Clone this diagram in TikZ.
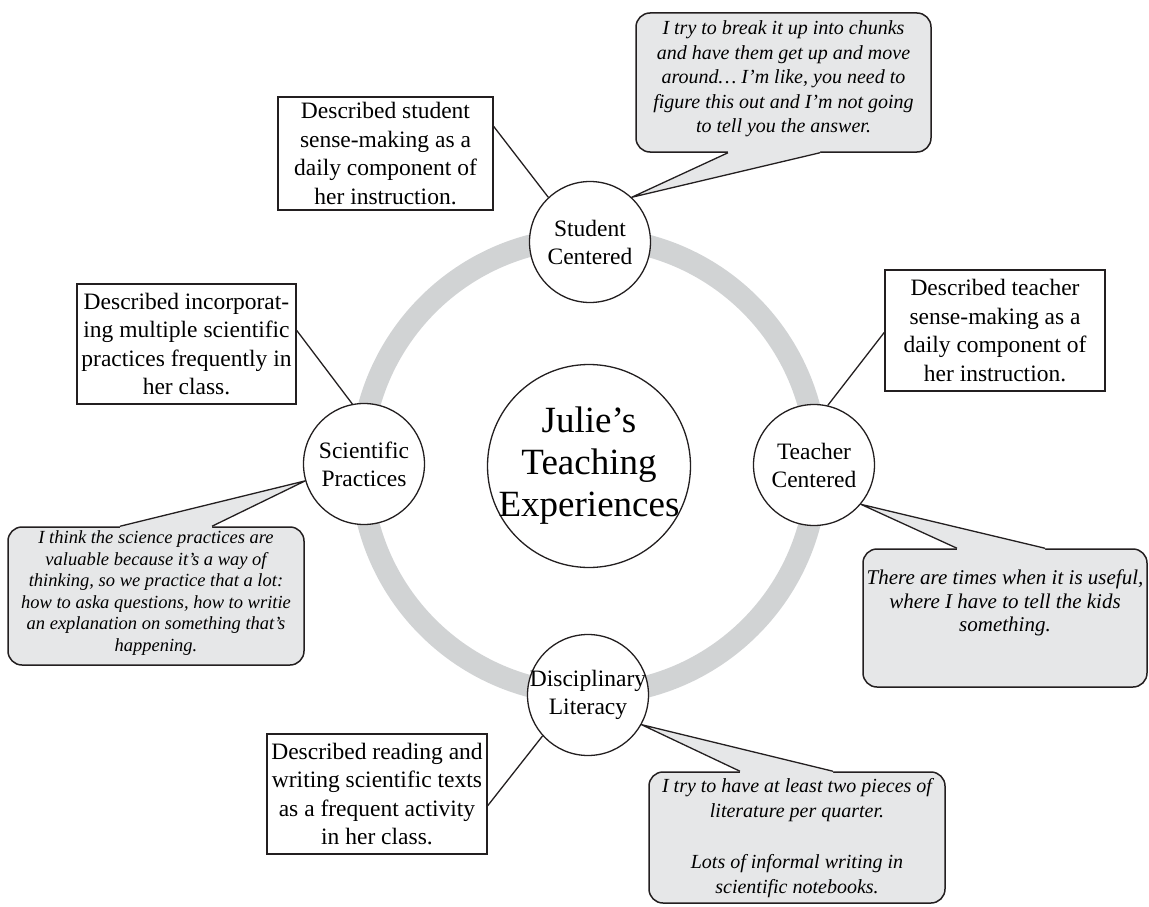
\documentclass[tikz,border=0pt]{standalone}
\usepackage{fontspec}
\setmainfont{Liberation Serif}
\usetikzlibrary{calc}
\definecolor{ink}{HTML}{231F20}
\definecolor{ringgray}{HTML}{D1D3D4}
\definecolor{quotefill}{HTML}{E6E7E8}
\tikzset{
  theme/.style={circle, draw=ink, fill=white, line width=1.3pt, minimum size=121pt,
    inner sep=-6pt, align=center, font=\fontsize{23.5}{28}\selectfont},
  hub/.style={circle, draw=ink, fill=white, line width=1.3pt, minimum size=203pt,
    inner sep=-14pt, align=center, font=\fontsize{37}{42}\selectfont},
  notebox/.style={draw=ink, fill=white, line width=1.5pt, inner sep=0pt,
    align=center, font=\fontsize{23.5}{28.5}\selectfont},
  quotebox/.style={draw=ink, fill=quotefill, line width=1.5pt, rounded corners=14pt, inner sep=0pt},
  quotetext/.style={align=center, inner sep=0pt, font=\itshape\fontsize{20}{24.5}\selectfont},
  link/.style={draw=ink, line width=1.3pt, line join=round},
}
\begin{document}
\begin{tikzpicture}[x=1pt,y=-1pt]
\useasboundingbox (0,0) rectangle (1149,907);

% grey ring joining the four themes
\draw[ringgray, line width=22pt] (589,466) circle (228);

% central hub and the four themes
\node[hub] (hub) at (589,466) {Julie’s\\Teaching\\Experiences};
\node[theme] (SC) at (590,242) {Student\\Centered};
\node[theme] (SP) at (364,464) {Scientific\\Practices};
\node[theme] (TC) at (814,465) {Teacher\\Centered};
\node[theme] (DL) at (588,695) {Disciplinary\\Literacy};

% descriptive notes
\node[notebox, minimum width=215pt, minimum height=113pt] (B1) at (385.5,153.5)
  {Described student\\sense-making as a\\daily component of\\her instruction.};
\node[notebox, minimum width=219pt, minimum height=120pt] (B2) at (186.5,344)
  {Described incorporat-\\ing multiple scientific\\practices frequently in\\her class.};
\node[notebox, minimum width=220pt, minimum height=121pt] (B3) at (995,330.5)
  {Described teacher\\sense-making as a\\daily component of\\her instruction.};
\node[notebox, minimum width=220pt, minimum height=120pt] (B4) at (377,794)
  {Described reading and\\writing scientific texts\\as a frequent activity\\in her class.};

\draw[link] (B1.14) -- (SC.133);
\draw[link] (B2.7) -- (SP.101);
\draw[link] (B3.181) -- (TC.77);
\draw[link] (B4.-6) -- (DL.222);

% quotation callouts
\node[quotebox, minimum width=295pt, minimum height=139pt] (QT) at (783.5,82.5) {};
\node[quotetext] (QTt) at (783.5,79)
  {I try to break it up into chunks\\and have them get up and move\\around… I’m like, you need to\\figure this out and I’m not going\\to tell you the answer.};
\coordinate (QTa) at ($(QT.south)+(-55.5,0)$);
\coordinate (QTb) at ($(QT.south)+(36.5,0)$);
\fill[quotefill] ($(QTa)+(0,-2)$) -- (QTa) -- (SC.47) -- (QTb) -- ($(QTb)+(0,-2)$) -- cycle;
\draw[link] (QTa) -- (SC.47) -- (QTb);

\node[quotebox, minimum width=296pt, minimum height=138pt] (QL) at (156,596) {};
\node[quotetext, font=\itshape\fontsize{18.5}{21.5}\selectfont] (QLt) at (156,593)
  {I think the science practices are\\valuable because it’s a way of\\thinking, so we practice that a lot:\\how to aska questions, how to writie\\an explanation on something that’s\\happening.};
\coordinate (QLa) at ($(QL.north)+(-36,0)$);
\coordinate (QLb) at ($(QL.north)+(56,0)$);
\fill[quotefill] ($(QLa)+(0,2)$) -- (QLa) -- (SP.196) -- (QLb) -- ($(QLb)+(0,2)$) -- cycle;
\draw[link] (QLa) -- (SP.196) -- (QLb);

\node[quotebox, minimum width=284pt, minimum height=138pt] (QR) at (1005,618) {};
\node[quotetext, font=\itshape\fontsize{21}{23.5}\selectfont] (QRt) at (1005,603)
  {There are times when it is useful,\\where I have to tell the kids\\something.};
\coordinate (QRa) at ($(QR.north)+(-48,0)$);
\coordinate (QRb) at ($(QR.north)+(40,0)$);
\fill[quotefill] ($(QRa)+(0,2)$) -- (QRa) -- (TC.320) -- (QRb) -- ($(QRb)+(0,2)$) -- cycle;
\draw[link] (QRa) -- (TC.320) -- (QRb);

\node[quotebox, minimum width=296pt, minimum height=131pt] (QB) at (797,837.5) {};
\node[quotetext] (QBt) at (797,838)
  {I try to have at least two pieces of\\literature per quarter.\\[27pt]Lots of informal writing in\\scientific notebooks.};
\coordinate (QBa) at ($(QB.north)+(-57,0)$);
\coordinate (QBb) at ($(QB.north)+(36,0)$);
\fill[quotefill] ($(QBa)+(0,2)$) -- (QBa) -- (DL.331) -- (QBb) -- ($(QBb)+(0,2)$) -- cycle;
\draw[link] (QBa) -- (DL.331) -- (QBb);
\end{tikzpicture}
\end{document}
